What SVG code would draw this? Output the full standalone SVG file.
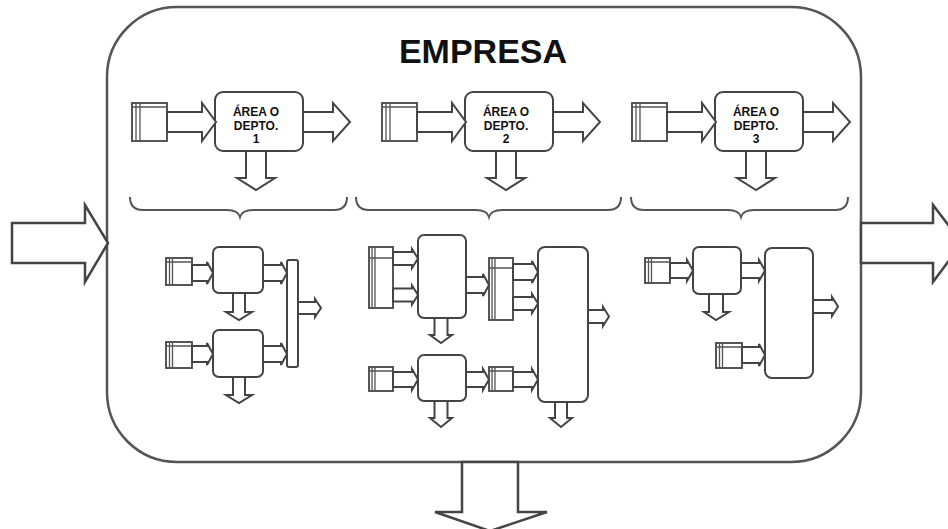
<svg xmlns="http://www.w3.org/2000/svg" width="948" height="529" viewBox="0 0 948 529">
<style>
.frame{fill:#fff;stroke:#555;stroke-width:2.5}
.b{fill:#fff;stroke:#444;stroke-width:2}
.s{fill:#fff;stroke:#444;stroke-width:1.8}
.l{stroke:#555;stroke-width:1.3;fill:none}
.a{fill:#fff;stroke:#444;stroke-width:2;stroke-linejoin:miter}
.big{fill:#fff;stroke:#444;stroke-width:2.5}
.br{fill:none;stroke:#555;stroke-width:2}
.t{font-family:"Liberation Sans",Arial,sans-serif;font-weight:bold;fill:#111;text-anchor:middle}
</style>
<rect width="948" height="529" fill="#fff"/>
<g id="empresa">
<rect class="frame" x="107" y="7" width="754" height="455" rx="70"/>
<text class="t" x="483" y="63" font-size="34">EMPRESA</text>
</g>
<g id="dept1">
<g id="d1-stack"><rect class="s" x="132" y="103" width="35" height="38"/><path class="l" d="M136,103V141M140,103V141M132,107H167"/></g>
<rect class="b" x="215" y="92" width="88" height="59" rx="8"/>
<text class="t" font-size="12" x="256" y="116">ÁREA O</text>
<text class="t" font-size="12" x="256" y="129.5">DEPTO.</text>
<text class="t" font-size="12" x="256" y="143">1</text>
</g>
<g id="dept2">
<g id="d2-stack"><rect class="s" x="382" y="103" width="35" height="38"/><path class="l" d="M386,103V141M390,103V141M382,107H417"/></g>
<rect class="b" x="465" y="92" width="88" height="59" rx="8"/>
<text class="t" font-size="12" x="506" y="116">ÁREA O</text>
<text class="t" font-size="12" x="506" y="129.5">DEPTO.</text>
<text class="t" font-size="12" x="506" y="143">2</text>
</g>
<g id="dept3">
<g id="d3-stack"><rect class="s" x="632" y="103" width="35" height="38"/><path class="l" d="M636,103V141M640,103V141M632,107H667"/></g>
<rect class="b" x="715" y="92" width="88" height="59" rx="8"/>
<text class="t" font-size="12" x="756" y="116">ÁREA O</text>
<text class="t" font-size="12" x="756" y="129.5">DEPTO.</text>
<text class="t" font-size="12" x="756" y="143">3</text>
</g>
<g id="sub1">
<g id="s1-stackU"><rect class="s" x="166" y="258" width="26" height="27"/><path class="l" d="M169.5,258V285M172.5,258V285M166,262H192"/></g>
<rect id="s1-boxU" class="b" x="213" y="247" width="50" height="46" rx="6"/>
<g id="s1-stackL"><rect class="s" x="166" y="342" width="26" height="26"/><path class="l" d="M169.5,342V368M172.5,342V368M166,346H192"/></g>
<rect id="s1-boxL" class="b" x="213" y="330" width="50" height="47" rx="6"/>
<rect id="s1-bar" class="b" x="287" y="260" width="11" height="107" rx="2"/>
</g>
<g id="sub2">
<g id="s2-stackT"><rect class="s" x="369" y="247" width="24" height="61"/><path class="l" d="M372,247V308M375,247V308M369,258H393"/></g>
<rect id="s2-boxA" class="b" x="418" y="235" width="48" height="83" rx="6"/>
<g id="s2-stackM"><rect class="s" x="489" y="258" width="24" height="62"/><path class="l" d="M492,258V320M495,258V320M489,268H513"/></g>
<rect id="s2-big" class="b" x="538" y="247" width="50" height="155" rx="7"/>
<rect id="s2-boxB" class="b" x="418" y="355" width="48" height="46" rx="6"/>
<g id="s2-stackLL"><rect class="s" x="369" y="367" width="24" height="24"/><path class="l" d="M372,367V391M375,367V391M369,371H393"/></g>
<g id="s2-stackLM"><rect class="s" x="489" y="367" width="24" height="24"/><path class="l" d="M492,367V391M495,367V391M489,371H513"/></g>
</g>
<g id="sub3">
<g id="s3-stackU"><rect class="s" x="645" y="258" width="25" height="25"/><path class="l" d="M648.5,258V283M651.5,258V283M645,262H670"/></g>
<rect id="s3-box" class="b" x="693" y="247" width="48" height="47" rx="6"/>
<rect id="s3-big" class="b" x="765" y="248" width="48" height="130" rx="7"/>
<g id="s3-stackL"><rect class="s" x="716" y="343" width="26" height="25"/><path class="l" d="M719.5,343V368M722.5,343V368M716,347H742"/></g>
</g>
<g id="connectors">
<polygon class="big" points="12,223 85,223 85,205 108,243 85,282 85,263 12,263"/>
<polygon class="big" points="861,223 933,223 933,205 962,243 933,282 933,263 861,263"/>
<polygon class="big" points="462,462 462,512 435,512 490,531 547,512 518,512 518,462"/>
<path class="br" d="M130,197Q130,210 143,210L227,210Q238,210 240,217Q242,210 253,210L334,210Q347,210 347,197"/>
<path class="br" d="M356,197Q356,210 369,210L476,210Q487,210 489,217Q491,210 502,210L608,210Q621,210 621,197"/>
<path class="br" d="M631,197Q631,210 644,210L728,210Q739,210 741,217Q743,210 754,210L835,210Q848,210 848,197"/>
<polygon class="a" points="167,112 202,112 202,103 216,122 202,141 202,132 167,132"/>
<polygon class="a" points="303,112 333,112 333,103 350,122 333,141 333,132 303,132"/>
<polygon class="a" points="246,151 246,178 237,178 256,190 275,178 266,178 266,151"/>
<polygon class="a" points="417,112 452,112 452,103 466,122 452,141 452,132 417,132"/>
<polygon class="a" points="553,112 583,112 583,103 600,122 583,141 583,132 553,132"/>
<polygon class="a" points="496,151 496,178 487,178 506,190 525,178 516,178 516,151"/>
<polygon class="a" points="667,112 702,112 702,103 716,122 702,141 702,132 667,132"/>
<polygon class="a" points="803,112 833,112 833,103 850,122 833,141 833,132 803,132"/>
<polygon class="a" points="746,151 746,178 737,178 756,190 775,178 766,178 766,151"/>
<polygon class="a" points="192,265 207,265 207,262 213,273 207,284 207,281 192,281"/>
<polygon class="a" points="263,265 281,265 281,262 287,273 281,284 281,281 263,281"/>
<polygon class="a" points="192,346 207,346 207,343 213,354 207,365 207,362 192,362"/>
<polygon class="a" points="263,346 281,346 281,343 287,354 281,365 281,362 263,362"/>
<polygon class="a" points="298,302 315,302 315,299 321,308 315,317 315,314 298,314"/>
<polygon class="a" points="233,293 233,312 226,312 239,320 252,312 245,312 245,293"/>
<polygon class="a" points="233,377 233,395 226,395 239,403 252,395 245,395 245,377"/>
<polygon class="a" points="393,252 412,252 412,249 418,258.5 412,268 412,265 393,265"/>
<polygon class="a" points="393,288.5 412,288.5 412,285.5 418,295 412,304.5 412,301.5 393,301.5"/>
<polygon class="a" points="466,277 483,277 483,274 489,285 483,296 483,293 466,293"/>
<polygon class="a" points="513,264 532,264 532,261 538,272 532,283 532,280 513,280"/>
<polygon class="a" points="513,297 532,297 532,294 538,303.5 532,313 532,310 513,310"/>
<polygon class="a" points="588,310 603,310 603,307 609,316.5 603,326 603,323 588,323"/>
<polygon class="a" points="555,402 555,418 550,418 561,427 572,418 567,418 567,402"/>
<polygon class="a" points="434.5,318 434.5,335 430,335 441,343 452,335 447.5,335 447.5,318"/>
<polygon class="a" points="393,372 412,372 412,369 418,379.5 412,390 412,387 393,387"/>
<polygon class="a" points="466,372 483,372 483,369 489,379.5 483,390 483,387 466,387"/>
<polygon class="a" points="513,372 532,372 532,369 538,379.5 532,390 532,387 513,387"/>
<polygon class="a" points="434.5,401 434.5,418 430,418 441,427 452,418 447.5,418 447.5,401"/>
<polygon class="a" points="670,263 687,263 687,260 693,270.5 687,281 687,278 670,278"/>
<polygon class="a" points="741,263 759,263 759,260 765,270.5 759,281 759,278 741,278"/>
<polygon class="a" points="709,294 709,312 704,312 716,320 729,312 723,312 723,294"/>
<polygon class="a" points="742,347 759,347 759,344 765,355 759,366 759,363 742,363"/>
<polygon class="a" points="813,300 832,300 832,297 838,306.5 832,316 832,313 813,313"/>
</g>
</svg>
